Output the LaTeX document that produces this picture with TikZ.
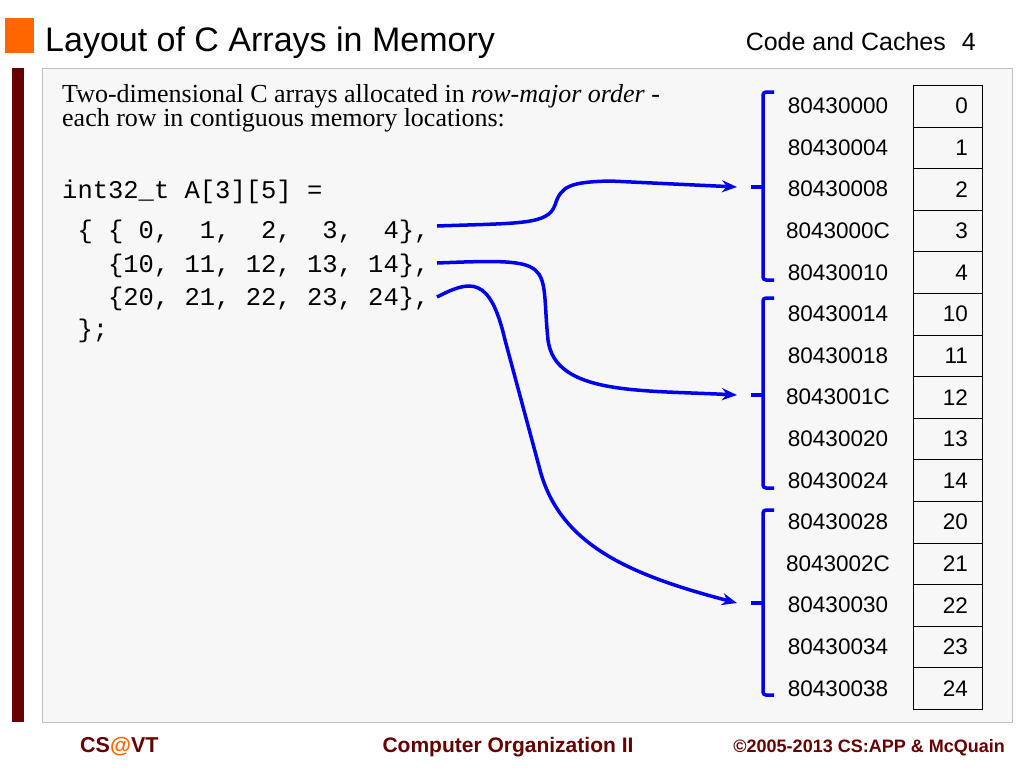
\documentclass[tikz,border=0pt]{standalone}
\usepackage{fontspec}
\usetikzlibrary{arrows.meta}
\setmainfont{Liberation Serif}
\setsansfont{Liberation Sans}
\setmonofont{Liberation Mono}
\definecolor{maroon}{HTML}{660000}
\definecolor{orng}{HTML}{FF6600}
\definecolor{panel}{HTML}{F7F7F7}
\definecolor{ablue}{HTML}{0000EE}
\begin{document}
\begin{tikzpicture}[x=1pt,y=-1pt,
  cell/.style={draw,minimum width=69pt,minimum height=41.6pt,anchor=north west,inner sep=0pt},
  addr/.style={font=\sffamily\fontsize{22.5}{22.5}\selectfont,anchor=center},
  val/.style={font=\sffamily\fontsize{22.5}{22.5}\selectfont,anchor=east},
  code/.style={font=\ttfamily\fontsize{25.5}{25.5}\selectfont,anchor=base west,inner sep=0pt},
  brk/.style={ablue,line width=3.5pt,rounded corners=3pt},
  conn/.style={ablue,line width=3.5pt,-{Stealth[length=15pt,width=12pt]}}]
\useasboundingbox (0,0) rectangle (1024,768);
\fill[white] (0,0) rectangle (1024,768);
\fill[orng] (5,18) rectangle (34,53);
\node[anchor=base west,font=\sffamily\fontsize{34}{34}\selectfont,inner sep=0pt] (title) at (45,52) {Layout of C Arrays in Memory};
\node[anchor=base east,font=\sffamily\fontsize{25}{25}\selectfont,inner sep=0pt] (hdr) at (976,50) {Code and Caches\hspace{16pt}4};
\fill[maroon] (12,68) rectangle (24,722);
\draw[gray!50,fill=panel] (42,68) rectangle (1012,722);
\node[anchor=north west,align=left,font=\fontsize{26}{24}\selectfont,inner sep=0pt] (intro) at (62,84) {Two-dimensional C arrays allocated in \textit{row-major order} -\\each row in contiguous memory locations:};
\node[code] (c0) at (62,198) {int32\_t A[3][5] =};
\node[code] (c1) at (62,238) {\ \{ \{ 0,\ \ 1,\ \ 2,\ \ 3,\ \ 4\},};
\node[code] (c2) at (62,272) {\ \ \ \{10, 11, 12, 13, 14\},};
\node[code] (c3) at (62,305) {\ \ \ \{20, 21, 22, 23, 24\},};
\node[code] (c4) at (62,337) {\ \};};
\foreach \a/\v [count=\i from 0] in {80430000/0,80430004/1,80430008/2,8043000C/3,80430010/4,80430014/10,80430018/11,8043001C/12,80430020/13,80430024/14,80430028/20,8043002C/21,80430030/22,80430034/23,80430038/24}{
  \node[cell] (cell\i) at (913,{85+41.6*\i}) {};
  \node[val] (v\i) at ([xshift=-11pt]cell\i.east) {\v};
  \node[addr] (a\i) at (838,{106+41.6*\i}) {\a};
}
\foreach \t/\b/\m/\n in {92/280/187/1,298/488/395/2,510/695/603/3}{
  \draw[brk] (774,\t) -- (763,\t) -- (763,\b) -- (774,\b);
  \draw[brk] (751,\m) -- (763,\m);
  \coordinate (g\n) at (737,\m);
}
\coordinate (s1) at (437,226);
\coordinate (s2) at (437,263);
\coordinate (s3) at (437,297);
\draw[conn] (s1) .. controls (520,223) and (548,225) .. (555,205) .. controls (561,186) and (570,182) .. (610,181) -- (g1);
\draw[conn] (s2) .. controls (560,258) and (540,262) .. (548,340) .. controls (555,395) and (640,390) .. (g2);
\draw[conn] (s3) .. controls (470,280) and (490,275) .. (505,340) -- (540,470) .. controls (560,545) and (630,575) .. (g3);
\node[anchor=base west,font=\sffamily\bfseries\fontsize{21.5}{21.5}\selectfont,text=maroon,inner sep=0pt] (f1) at (80,752) {CS\textcolor{orng}{@}VT};
\node[anchor=base,font=\sffamily\bfseries\fontsize{21}{21}\selectfont,text=maroon,inner sep=0pt] (f2) at (508,752) {Computer Organization II};
\node[anchor=base east,font=\sffamily\bfseries\fontsize{18}{18}\selectfont,text=maroon,inner sep=0pt] (f3) at (1005,752) {©2005-2013 CS:APP \& McQuain};
\end{tikzpicture}
\end{document}
